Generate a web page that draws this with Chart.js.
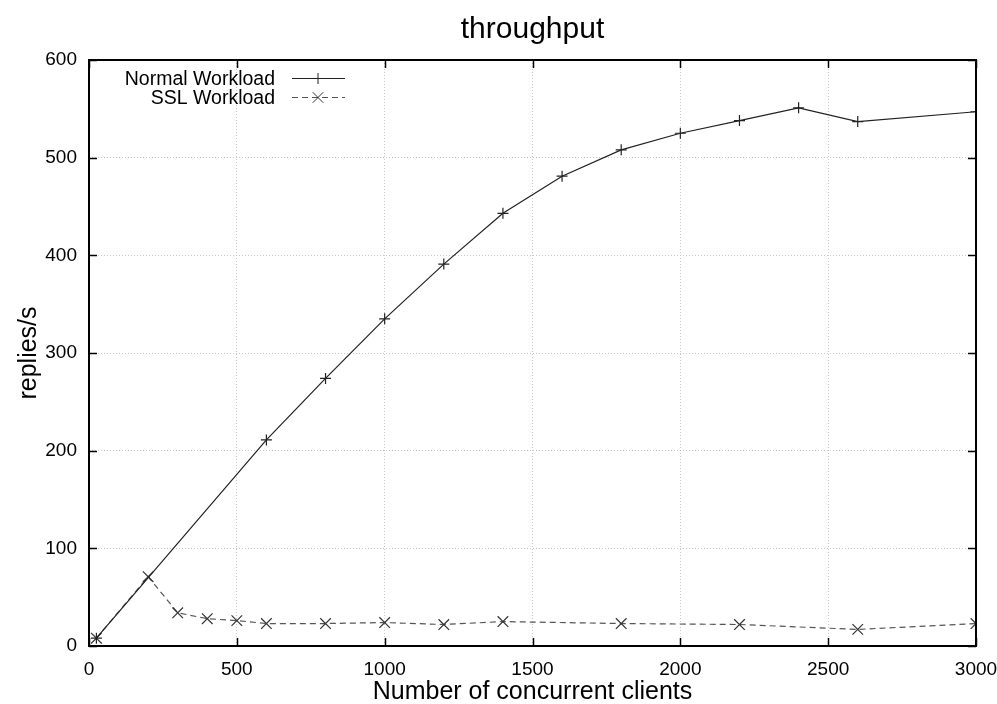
<!DOCTYPE html>
<html>
<head>
<meta charset="utf-8">
<script src="https://cdn.jsdelivr.net/npm/chart.js@4/dist/chart.umd.min.js"></script>
<style>
html,body{margin:0;padding:0;background:#fff;}
#c{display:block;}
</style>
</head>
<body>
<canvas id="c" width="997" height="704"></canvas>
<script>
const TITLE = 'throughput';
const X_TITLE = 'Number of concurrent clients';
const Y_TITLE = 'replies/s';
const SERIES_NAMES = ['Normal Workload', 'SSL Workload'];

const normalX = [25, 600, 800, 1000, 1200, 1400, 1600, 1800, 2000, 2200, 2400, 2600, 3000];
const normalY = [8, 211, 274, 335, 391, 443, 481, 508, 525, 538, 551, 537, 547];

const sslX = [25, 200, 300, 400, 500, 600, 800, 1000, 1200, 1400, 1800, 2200, 2600, 3000];
const sslY = [8, 71, 34, 28, 26, 23, 23, 24, 22, 25, 23, 22, 17, 23];

const X_MIN = 0, X_MAX = 3000, X_STEP = 500;
const Y_MIN = 0, Y_MAX = 600, Y_STEP = 100;

const FONT = 'Liberation Sans, Arial, Helvetica, sans-serif';

function pts(xs, ys) { return xs.map((x, i) => ({x: x, y: ys[i]})); }

const framePlugin = {
  id: 'frame',
  afterDatasetsDraw(chart) {
    const ctx = chart.ctx;
    const a = chart.chartArea;
    const xs = chart.scales.x, ys = chart.scales.y;
    ctx.save();
    ctx.strokeStyle = '#000';
    ctx.lineWidth = 1.5;
    const TL = 8;
    ctx.beginPath();
    xs.ticks.forEach(t => {
      const px = Math.round(xs.getPixelForValue(t.value)) + 0.5;
      ctx.moveTo(px, a.bottom); ctx.lineTo(px, a.bottom - TL);
      ctx.moveTo(px, a.top); ctx.lineTo(px, a.top + TL);
    });
    ys.ticks.forEach(t => {
      const py = Math.round(ys.getPixelForValue(t.value)) + 0.5;
      ctx.moveTo(a.left, py); ctx.lineTo(a.left + TL, py);
      ctx.moveTo(a.right, py); ctx.lineTo(a.right - TL, py);
    });
    ctx.stroke();
    ctx.lineWidth = 2;
    ctx.strokeRect(a.left, a.top, a.right - a.left, a.bottom - a.top);
    ctx.restore();
  }
};

const legendPlugin = {
  id: 'gpLegend',
  afterDatasetsDraw(chart) {
    const ctx = chart.ctx;
    ctx.save();
    ctx.font = '19.5px ' + FONT;
    ctx.fillStyle = '#000';
    ctx.textAlign = 'right';
    ctx.textBaseline = 'middle';
    const rows = [78, 97];
    chart.data.datasets.forEach((ds, i) => {
      const y = rows[i];
      ctx.fillText(ds.label, 275, y + 1.5);
      ctx.save();
      ctx.strokeStyle = ds.borderColor;
      ctx.lineWidth = ds.borderWidth;
      ctx.setLineDash(ds.borderDash || []);
      ctx.beginPath();
      ctx.moveTo(292, y + 0.5); ctx.lineTo(345, y + 0.5);
      ctx.stroke();
      ctx.restore();
      ctx.strokeStyle = ds.pointBorderColor;
      Chart.helpers.drawPoint(ctx, {
        pointStyle: ds.pointStyle, radius: ds.pointRadius, borderWidth: ds.pointBorderWidth, rotation: 0
      }, 318, y + 0.5);
    });
    ctx.restore();
  }
};

const plainTick = v => String(v);

const chart = new Chart(document.getElementById('c'), {
  type: 'line',
  data: {
    datasets: [
      {
        label: SERIES_NAMES[0],
        data: pts(normalX, normalY),
        borderColor: '#222',
        borderWidth: 1.2,
        pointStyle: 'cross',
        pointRadius: 5.5,
        pointBorderWidth: 1.2,
        pointBorderColor: '#222',
        pointBackgroundColor: '#222',
        fill: false,
        tension: 0
      },
      {
        label: SERIES_NAMES[1],
        data: pts(sslX, sslY),
        borderColor: '#555',
        borderWidth: 1.2,
        borderDash: [6, 4],
        pointStyle: 'crossRot',
        pointRadius: 7.5,
        pointBorderWidth: 1.2,
        pointBorderColor: '#333',
        pointBackgroundColor: '#333',
        fill: false,
        tension: 0
      }
    ]
  },
  options: {
    responsive: false,
    devicePixelRatio: 1,
    animation: false,
    layout: { padding: { left: 0, right: 21, top: 0, bottom: 0 } },
    plugins: {
      legend: { display: false },
      tooltip: { enabled: false },
      title: {
        display: true,
        fullSize: false,
        text: TITLE,
        color: '#000',
        font: { family: FONT, size: 30, weight: 'normal' },
        padding: { top: 12, bottom: 12 }
      }
    },
    scales: {
      x: {
        type: 'linear',
        min: X_MIN, max: X_MAX,
        ticks: { stepSize: X_STEP, color: '#000', font: { family: FONT, size: 19 }, padding: 12, maxRotation: 0, callback: plainTick },
        grid: { color: '#c8c8c8', lineWidth: 1, drawTicks: false },
        border: { display: false, dash: [1, 2] },
        title: { display: true, text: X_TITLE, color: '#000', font: { family: FONT, size: 25 }, padding: { top: 0, bottom: -3 } },
        afterFit(s) { s.height = 58; s.paddingLeft = 0; s.paddingRight = 0; }
      },
      y: {
        type: 'linear',
        min: Y_MIN, max: Y_MAX,
        ticks: { stepSize: Y_STEP, color: '#000', font: { family: FONT, size: 19 }, padding: 12, callback: plainTick },
        grid: { color: '#c8c8c8', lineWidth: 1, drawTicks: false },
        border: { display: false, dash: [1, 2] },
        title: { display: true, text: Y_TITLE, color: '#000', font: { family: FONT, size: 25 }, padding: { top: 14, bottom: 0 } },
        afterFit(s) { s.width = 89; s.paddingTop = 0; s.paddingBottom = 0; }
      }
    }
  },
  plugins: [framePlugin, legendPlugin]
});
</script>
</body>
</html>
